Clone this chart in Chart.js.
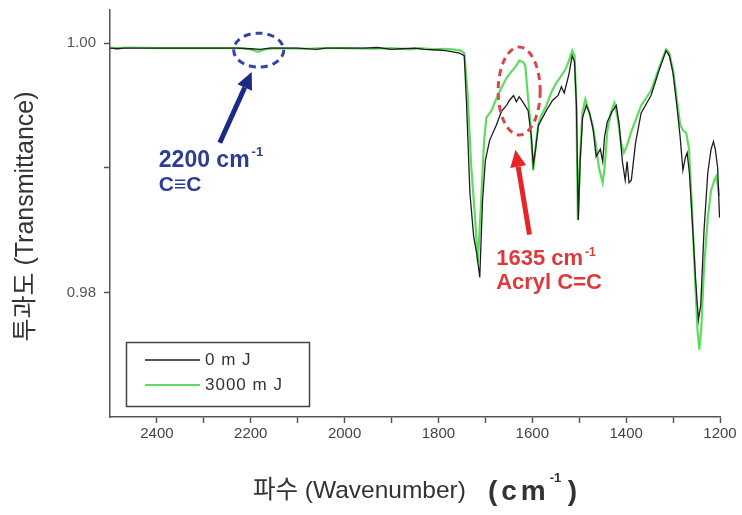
<!DOCTYPE html>
<html>
<head>
<meta charset="utf-8">
<script src="https://cdn.jsdelivr.net/npm/chart.js@4"></script>
<style>
body { margin: 0; background: #fff; }
#wrap { width: 742px; height: 515px; }
</style>
</head>
<body>
<div id="wrap"><canvas id="myChart" width="742" height="515"></canvas></div>
<script>
var seriesLabels = ['0 m J', '3000 m J'];

// 0 mJ (black)
var wn0 = [2500, 2485, 2470, 2400, 2300, 2230, 2200, 2180, 2160, 2100, 2060, 2040, 1960, 1930, 1900, 1880, 1850, 1830, 1800, 1785, 1770, 1755, 1745,
    1740, 1733, 1725, 1718, 1712, 1706, 1700, 1691, 1677, 1666, 1655, 1649, 1640, 1634, 1628, 1619, 1609, 1602, 1598, 1593, 1587,
    1570, 1557, 1545, 1538, 1532, 1522, 1515, 1510, 1506, 1502, 1498, 1493, 1485, 1478, 1470, 1464, 1455, 1450, 1446, 1440,
    1430, 1421, 1415, 1408, 1402, 1398, 1394, 1389, 1380, 1368, 1347, 1330, 1315, 1308, 1300, 1292, 1285, 1279, 1274, 1270,
    1265, 1258, 1252, 1246, 1241, 1234, 1226, 1219, 1214, 1210, 1205, 1203, 1201];
var t0 = [0.9996, 0.99955, 0.9996, 0.9996, 0.9996, 0.9996, 0.99955, 0.9995, 0.9996, 0.9996, 0.9995, 0.9996, 0.9996, 0.99965, 0.9995, 0.99955, 0.9996, 0.9995, 0.99945, 0.9994, 0.9993, 0.9992, 0.9990,
    0.9950, 0.9880, 0.9845, 0.9830, 0.9812, 0.9874, 0.9906, 0.9922, 0.9934, 0.9945, 0.9950, 0.9954, 0.9958, 0.9953, 0.9957, 0.9952, 0.9946, 0.9925, 0.9902, 0.9915, 0.9934,
    0.9946, 0.9954, 0.9958, 0.9965, 0.9960, 0.9975, 0.9990, 0.9985, 0.9950, 0.9858, 0.9905, 0.9940, 0.9950, 0.9944, 0.9930, 0.9909, 0.9915, 0.9905, 0.9925, 0.9937,
    0.9945, 0.9950, 0.9935, 0.9905, 0.9890, 0.9905, 0.9888, 0.9890, 0.9920, 0.9944, 0.9958, 0.9978, 0.9994, 0.9990, 0.9976, 0.9950, 0.9925, 0.9898, 0.9908, 0.9912,
    0.9895, 0.9850, 0.9810, 0.9778, 0.9790, 0.9850, 0.9896, 0.9915, 0.9921, 0.9915, 0.9900, 0.9880, 0.9860];

// 3000 mJ (green)
var wn3000 = [2500, 2485, 2460, 2400, 2300, 2220, 2200, 2185, 2170, 2150, 2080, 2050, 2000, 1940, 1900, 1860, 1840, 1810, 1790, 1770, 1752, 1745,
    1738, 1730, 1722, 1716, 1709, 1703, 1698, 1687, 1677, 1666, 1655, 1645, 1634, 1628, 1620, 1615, 1610, 1605, 1598, 1592, 1587, 1581,
    1570, 1560, 1549, 1538, 1528, 1520, 1515, 1510, 1506, 1503, 1498, 1493, 1487, 1480, 1472, 1465, 1458, 1450, 1446, 1440,
    1432, 1425, 1418, 1411, 1405, 1398, 1390, 1385, 1368, 1347, 1330, 1315, 1308, 1300, 1292, 1285, 1279, 1272, 1266,
    1260, 1253, 1248, 1244, 1240, 1234, 1226, 1219, 1212, 1208, 1204, 1202];
var t3000 = [0.99965, 0.9996, 0.99965, 0.9996, 0.9996, 0.9996, 0.9995, 0.9993, 0.9995, 0.9996, 0.99955, 0.9996, 0.9996, 0.99955, 0.9996, 0.9995, 0.9996, 0.9995, 0.99955, 0.9995, 0.9994, 0.9992,
    0.9960, 0.9900, 0.9860, 0.9824, 0.9874, 0.9920, 0.9940, 0.9946, 0.9955, 0.9964, 0.9972, 0.9977, 0.9982, 0.9986, 0.9985, 0.9982, 0.9960, 0.9940, 0.9898, 0.9920, 0.9935, 0.9942,
    0.9950, 0.9960, 0.9968, 0.9974, 0.9980, 0.9988, 0.9994, 0.9990, 0.9950, 0.9858, 0.9910, 0.9945, 0.9955, 0.9946, 0.9935, 0.9920, 0.9900, 0.9888, 0.9900, 0.9930,
    0.9945, 0.9952, 0.9940, 0.9920, 0.9912, 0.9918, 0.9928, 0.9933, 0.9950, 0.9962, 0.9980, 0.9995, 0.9992, 0.9978, 0.9955, 0.9935, 0.9930, 0.9928, 0.9915,
    0.9870, 0.9810, 0.9770, 0.9754, 0.9770, 0.9820, 0.9860, 0.9882, 0.9890, 0.9893, 0.9885, 0.9877];

var xTickValues = [2400, 2300, 2200, 2100, 2000, 1900, 1800, 1700, 1600, 1500, 1400, 1300, 1200];
var xTickLabels = ['2400', '', '2200', '', '2000', '', '1800', '', '1600', '', '1400', '', '1200'];
var yTickValues = [0.98, 0.99, 1.00];
var yTickLabels = ['0.98', '', '1.00'];

// peak callouts, placed in data units
var blueNote = { ring: [2183, 0.99944], tail: [2266, 0.9920], tip: [2198, 0.99768], text: [2396, 0.99008], text2: [2396, 0.98816] };
var redNote = { ring: [1628, 0.99616], tail: [1606, 0.98464], tip: [1636, 0.99144], text: [1677, 0.98216], text2: [1677, 0.98024] };

function toPoints(xs, ys) {
    return xs.map(function (x, i) { return { x: x, y: ys[i] }; });
}

function drawArrow(ctx, x1, y1, x2, y2, color) {
    var a = Math.atan2(y2 - y1, x2 - x1), h = 17, w = 8;
    var bx = x2 - h * Math.cos(a), by = y2 - h * Math.sin(a);
    ctx.strokeStyle = color;
    ctx.lineWidth = 5;
    ctx.beginPath(); ctx.moveTo(x1, y1); ctx.lineTo(bx, by); ctx.stroke();
    ctx.fillStyle = color;
    ctx.beginPath();
    ctx.moveTo(x2, y2);
    ctx.lineTo(bx + w * Math.sin(a), by - w * Math.cos(a));
    ctx.lineTo(bx - w * Math.sin(a), by + w * Math.cos(a));
    ctx.closePath(); ctx.fill();
}

function drawSupText(ctx, x, y, main, sup, size, color) {
    ctx.fillStyle = color;
    ctx.textAlign = 'left';
    ctx.textBaseline = 'alphabetic';
    ctx.font = 'bold ' + size + 'px "Liberation Sans", Arial, sans-serif';
    ctx.fillText(main, x, y);
    var w = ctx.measureText(main).width;
    ctx.font = 'bold ' + Math.round(size * 0.55) + 'px "Liberation Sans", Arial, sans-serif';
    ctx.fillText(sup, x + w + 2, y - size * 0.45);
}

var overlay = {
    id: 'overlay',
    afterDatasetsDraw: function (chart) {
        var ctx = chart.ctx, xs = chart.scales.x, ys = chart.scales.y, ca = chart.chartArea;
        function px(p) { return [xs.getPixelForValue(p[0]), ys.getPixelForValue(p[1])]; }
        ctx.save();

        // blue callout
        var c = px(blueNote.ring);
        ctx.setLineDash([7, 5]);
        ctx.lineWidth = 3;
        ctx.strokeStyle = '#3343a8';
        ctx.beginPath(); ctx.ellipse(c[0], c[1], 25, 17, 0, 0, Math.PI * 2); ctx.stroke();
        ctx.setLineDash([]);
        var t = px(blueNote.tail), h = px(blueNote.tip);
        drawArrow(ctx, t[0], t[1], h[0], h[1], '#1c2a85');
        var p = px(blueNote.text);
        drawSupText(ctx, p[0], p[1], '2200 cm', '-1', 23, '#2d3c96');
        p = px(blueNote.text2);
        ctx.font = 'bold 21px "Liberation Sans", "DejaVu Sans", sans-serif';
        ctx.fillText('C\u2261C', p[0], p[1]);

        // red callout
        c = px(redNote.ring);
        ctx.setLineDash([7, 5]);
        ctx.lineWidth = 3;
        ctx.strokeStyle = '#d8484a';
        ctx.beginPath(); ctx.ellipse(c[0], c[1], 21, 44, 0, 0, Math.PI * 2); ctx.stroke();
        ctx.setLineDash([]);
        t = px(redNote.tail); h = px(redNote.tip);
        drawArrow(ctx, t[0], t[1], h[0], h[1], '#e4262b');
        p = px(redNote.text);
        drawSupText(ctx, p[0], p[1], '1635 cm', '-1', 22, '#dc3b3d');
        p = px(redNote.text2);
        ctx.font = 'bold 22px "Liberation Sans", Arial, sans-serif';
        ctx.fillText('Acryl C=C', p[0], p[1]);

        // legend box
        ctx.strokeStyle = '#444';
        ctx.lineWidth = 1.5;
        ctx.strokeRect(126.5, 342.5, 183, 64);
        var ds = chart.data.datasets;
        ctx.font = '17px "Liberation Sans", Arial, sans-serif';
        ctx.textBaseline = 'middle';
        ctx.textAlign = 'left';
        [360, 385].forEach(function (ly, i) {
            ctx.strokeStyle = ds[i].borderColor;
            ctx.lineWidth = ds[i].borderWidth;
            ctx.beginPath(); ctx.moveTo(145, ly); ctx.lineTo(200, ly); ctx.stroke();
            ctx.fillStyle = '#333';
            ctx.letterSpacing = '1px';
            ctx.fillText(ds[i].label, 205, ly);
            ctx.letterSpacing = '0px';
        });

        // axis titles
        ctx.fillStyle = '#333';
        ctx.save();
        ctx.translate(26, (ca.top + ca.bottom) / 2 + 3);
        ctx.rotate(-Math.PI / 2);
        ctx.textAlign = 'center';
        ctx.textBaseline = 'middle';
        ctx.font = '25px "Liberation Sans", "Noto Sans CJK KR", sans-serif';
        ctx.fillText('투과도 (Transmittance)', 0, 0);
        ctx.restore();

        var part1 = '파수 (Wavenumber)';
        ctx.font = '24.5px "Liberation Sans", "Noto Sans CJK KR", sans-serif';
        var w1 = ctx.measureText(part1).width + 22;
        ctx.font = 'bold 28px "Liberation Sans", Arial, sans-serif';
        ctx.letterSpacing = '4px';
        var w2 = ctx.measureText('(cm').width;
        ctx.letterSpacing = '0px';
        var w3 = 18, w4 = ctx.measureText(')').width;
        var x0 = (ca.left + ca.right) / 2 - (w1 + w2 + w3 + w4) / 2;
        var by = 500;
        ctx.textAlign = 'left';
        ctx.textBaseline = 'alphabetic';
        ctx.font = '24.5px "Liberation Sans", "Noto Sans CJK KR", sans-serif';
        ctx.fillText(part1, x0, by - 2);
        ctx.font = 'bold 28px "Liberation Sans", Arial, sans-serif';
        ctx.letterSpacing = '4px';
        ctx.fillText('(cm', x0 + w1, by);
        ctx.letterSpacing = '0px';
        ctx.font = 'bold 13px "Liberation Sans", Arial, sans-serif';
        ctx.fillText('-1', x0 + w1 + w2, by - 18);
        ctx.font = 'bold 28px "Liberation Sans", Arial, sans-serif';
        ctx.fillText(')', x0 + w1 + w2 + w3, by);

        ctx.restore();
    }
};

function load() {
    var ctx = document.getElementById('myChart').getContext('2d');
    var myChart = new Chart(ctx, {
        type: 'line',
        data: {
            datasets: [{
                label: seriesLabels[0],
                data: toPoints(wn0, t0),
                borderColor: '#1e1e1e',
                borderWidth: 1.3,
                pointRadius: 0,
                tension: 0
            }, {
                label: seriesLabels[1],
                data: toPoints(wn3000, t3000),
                borderColor: '#5fdc5f',
                borderWidth: 2.2,
                pointRadius: 0,
                tension: 0
            }]
        },
        options: {
            responsive: false,
            animation: false,
            layout: { padding: { left: 0, top: 10, right: 22, bottom: 0 } },
            plugins: { legend: { display: false }, tooltip: { enabled: false } },
            scales: {
                x: {
                    type: 'linear',
                    reverse: true,
                    min: 1200,
                    max: 2500,
                    afterBuildTicks: function (s) { s.ticks = xTickValues.map(function (v) { return { value: v }; }); },
                    afterFit: function (s) { s.height = 98; },
                    ticks: {
                        autoSkip: false,
                        maxRotation: 0,
                        padding: 2,
                        color: '#444',
                        font: { family: '"Liberation Sans", Arial, sans-serif', size: 15 },
                        callback: function (v, i) { return xTickLabels[i]; }
                    },
                    grid: { drawOnChartArea: false, tickLength: 6, tickColor: '#555', tickWidth: 1.5 },
                    border: { color: '#555', width: 1.5 }
                },
                y: {
                    min: 0.97,
                    max: 1.00266,
                    afterBuildTicks: function (s) { s.ticks = yTickValues.map(function (v) { return { value: v }; }); },
                    afterFit: function (s) { s.width = 110; s.paddingTop = 0; s.paddingBottom = 0; },
                    ticks: {
                        padding: 8,
                        color: '#555',
                        font: { family: '"Liberation Sans", Arial, sans-serif', size: 15 },
                        callback: function (v, i) { return yTickLabels[i]; }
                    },
                    grid: { drawOnChartArea: false, tickLength: 6, tickColor: '#555', tickWidth: 1.5 },
                    border: { color: '#555', width: 1.5 }
                }
            }
        },
        plugins: [overlay]
    });
}

window.onload = load;
</script>
</body>
</html>
